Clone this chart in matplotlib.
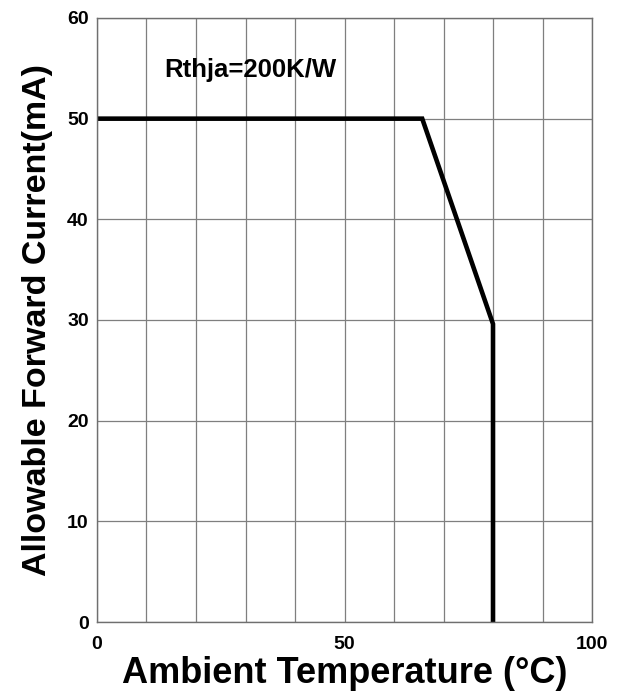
import matplotlib
matplotlib.use('Agg')
from matplotlib import pyplot as plt

# derating curve
temp = [0, 65.7, 80, 80]
current = [50, 50, 29.6, 0]

xticks = [0, 50, 100]
yticks = [0, 10, 20, 30, 40, 50, 60]

plt.rcParams['font.family'] = ['Liberation Sans', 'DejaVu Sans']
plt.rcParams['font.weight'] = 'bold'

fig = plt.figure(figsize=(6.19, 6.97), dpi=100)
ax = fig.add_axes([0.1567, 0.1076, 0.7997, 0.8666])

ax.plot(temp, current, color='black', linewidth=3.3, solid_joinstyle='miter')

ax.set_xlim(0, 100)
ax.set_ylim(0, 60)
ax.set_xticks(range(0, 101, 10), minor=True)
ax.set_xticks(xticks)
ax.set_yticks(yticks)
ax.grid(True, which='both', color='#7f7f7f', linewidth=0.9)
ax.tick_params(which='both', length=0, labelsize=14)
ax.tick_params(axis='x', pad=10)
ax.tick_params(axis='y', pad=6)
for lbl in ax.get_xticklabels() + ax.get_yticklabels():
    lbl.set_fontweight('bold')
for s in ax.spines.values():
    s.set_color('#6f6f6f')
    s.set_linewidth(1.0)

ax.text(13.5, 54.1, 'Rthja=200K/W', fontsize=18.5, fontweight='bold')

ax.set_xlabel('Ambient Temperature (°C)', fontsize=26, fontweight='bold', labelpad=2)
ax.set_ylabel('Allowable Forward Current(mA)', fontsize=24.5, fontweight='bold', labelpad=10)

fig.savefig('out.png', dpi=100)
